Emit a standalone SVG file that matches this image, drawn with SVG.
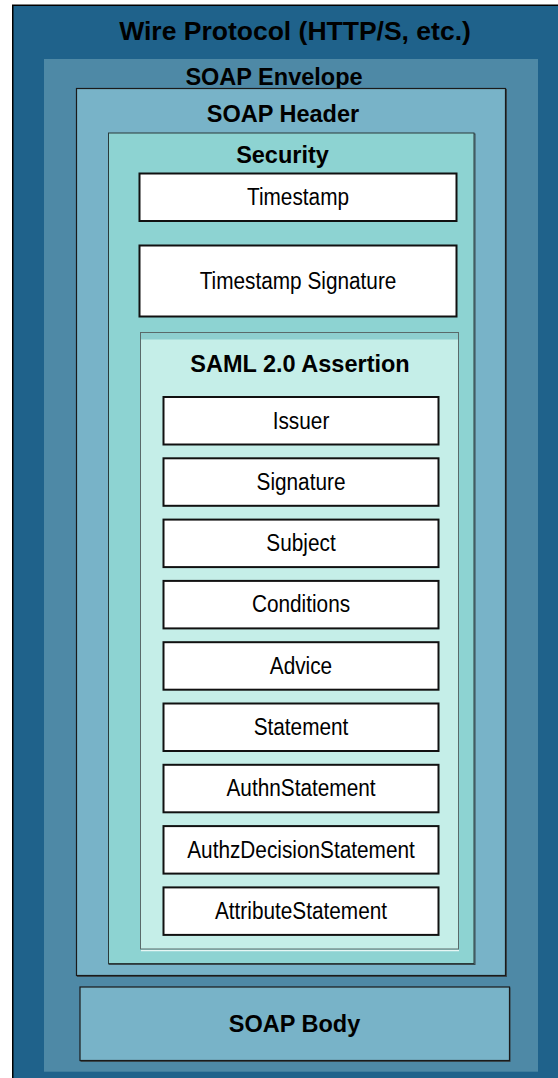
<svg xmlns="http://www.w3.org/2000/svg" width="558" height="1078" viewBox="0 0 558 1078">
  <style>
    .h { font-family: "Liberation Sans", Arial, sans-serif; font-weight: bold; font-size: 23.5px; fill: #000; text-anchor: middle; }
    .t { font-family: "Liberation Sans", Arial, sans-serif; font-size: 23.5px; fill: #000; text-anchor: middle; }
    .box { fill: #ffffff; stroke: #111; stroke-width: 2; }
  </style>
  <rect width="558" height="1078" fill="#ffffff"/>

  <!-- wire protocol layer -->
  <g id="wire">
    <rect x="12.75" y="5.25" width="560" height="1090" fill="#1f628b" stroke="#000" stroke-width="1.5"/>
    <text class="h" x="295" y="40" style="font-size:26.5px">Wire Protocol (HTTP/S, etc.)</text>
  </g>

  <!-- SOAP envelope -->
  <g id="envelope">
    <rect x="44" y="59" width="494" height="1012.7" fill="#4e89a6"/>
    <text class="h" x="274" y="85">SOAP Envelope</text>
  </g>

  <!-- SOAP header -->
  <g id="header">
    <rect x="77.5" y="89.5" width="429" height="887" fill="none" stroke="#3a4a50" stroke-width="1"/>
    <rect x="76.5" y="88.5" width="429" height="887" fill="#78b3c8" stroke="#1a1a1a" stroke-width="1.2"/>
    <text class="h" x="283" y="122">SOAP Header</text>
  </g>

  <!-- WS-Security header -->
  <g id="security">
    <rect x="109" y="134" width="366" height="830.5" fill="none" stroke="#3a4a50" stroke-width="1"/>
    <rect x="108.5" y="133" width="365.5" height="830.5" fill="#8dd3d2" stroke="#2a3a3a" stroke-width="1"/>
    <text class="h" x="282.5" y="163">Security</text>
  </g>

  <g id="timestamp">
    <rect class="box" x="139.5" y="173.5" width="317" height="47.5"/>
    <text class="t" transform="translate(298 204.5) scale(0.885 1)">Timestamp</text>
  </g>

  <g id="timestamp-signature">
    <rect class="box" x="139.5" y="245.5" width="317" height="71"/>
    <text class="t" transform="translate(298 288.5) scale(0.885 1)">Timestamp Signature</text>
  </g>

  <!-- SAML assertion container -->
  <g id="saml-assertion">
    <line x1="141" y1="950.5" x2="459" y2="950.5" stroke="#e6f7f5" stroke-width="1.5"/>
    <rect x="140.5" y="332.5" width="318" height="616.5" fill="#c5eee8" stroke="#5a6a6a" stroke-width="1"/>
    <rect x="141" y="333" width="317" height="6.5" fill="#8ecfcf"/>
    <text class="h" x="300" y="372">SAML 2.0 Assertion</text>
  </g>

  <g id="issuer">
    <rect class="box" x="163.5" y="397" width="275" height="47.5"/>
    <text class="t" transform="translate(301 428.5) scale(0.885 1)">Issuer</text>
  </g>
  <g id="signature">
    <rect class="box" x="163.5" y="458.3" width="275" height="47.5"/>
    <text class="t" transform="translate(301 489.8) scale(0.885 1)">Signature</text>
  </g>
  <g id="subject">
    <rect class="box" x="163.5" y="519.6" width="275" height="47.5"/>
    <text class="t" transform="translate(301 551.1) scale(0.885 1)">Subject</text>
  </g>
  <g id="conditions">
    <rect class="box" x="163.5" y="580.9" width="275" height="47.5"/>
    <text class="t" transform="translate(301 612.4) scale(0.885 1)">Conditions</text>
  </g>
  <g id="advice">
    <rect class="box" x="163.5" y="642.2" width="275" height="47.5"/>
    <text class="t" transform="translate(301 673.7) scale(0.885 1)">Advice</text>
  </g>
  <g id="statement">
    <rect class="box" x="163.5" y="703.5" width="275" height="47.5"/>
    <text class="t" transform="translate(301 735) scale(0.885 1)">Statement</text>
  </g>
  <g id="authn-statement">
    <rect class="box" x="163.5" y="764.8" width="275" height="47.5"/>
    <text class="t" transform="translate(301 796.3) scale(0.885 1)">AuthnStatement</text>
  </g>
  <g id="authz-decision-statement">
    <rect class="box" x="163.5" y="826.1" width="275" height="47.5"/>
    <text class="t" transform="translate(301 857.6) scale(0.885 1)">AuthzDecisionStatement</text>
  </g>
  <g id="attribute-statement">
    <rect class="box" x="163.5" y="887.4" width="275" height="47.5"/>
    <text class="t" transform="translate(301 918.9) scale(0.885 1)">AttributeStatement</text>
  </g>

  <!-- SOAP body -->
  <g id="body">
    <rect x="81" y="988" width="429" height="73.5" fill="none" stroke="#3a4a50" stroke-width="1"/>
    <rect x="80" y="987" width="429.5" height="73.5" fill="#78b3c8" stroke="#1a1a1a" stroke-width="1.2"/>
    <text class="h" x="294.5" y="1032">SOAP Body</text>
  </g>

  <!-- no connectors in this layered diagram -->
  <g id="connectors"/>
</svg>
